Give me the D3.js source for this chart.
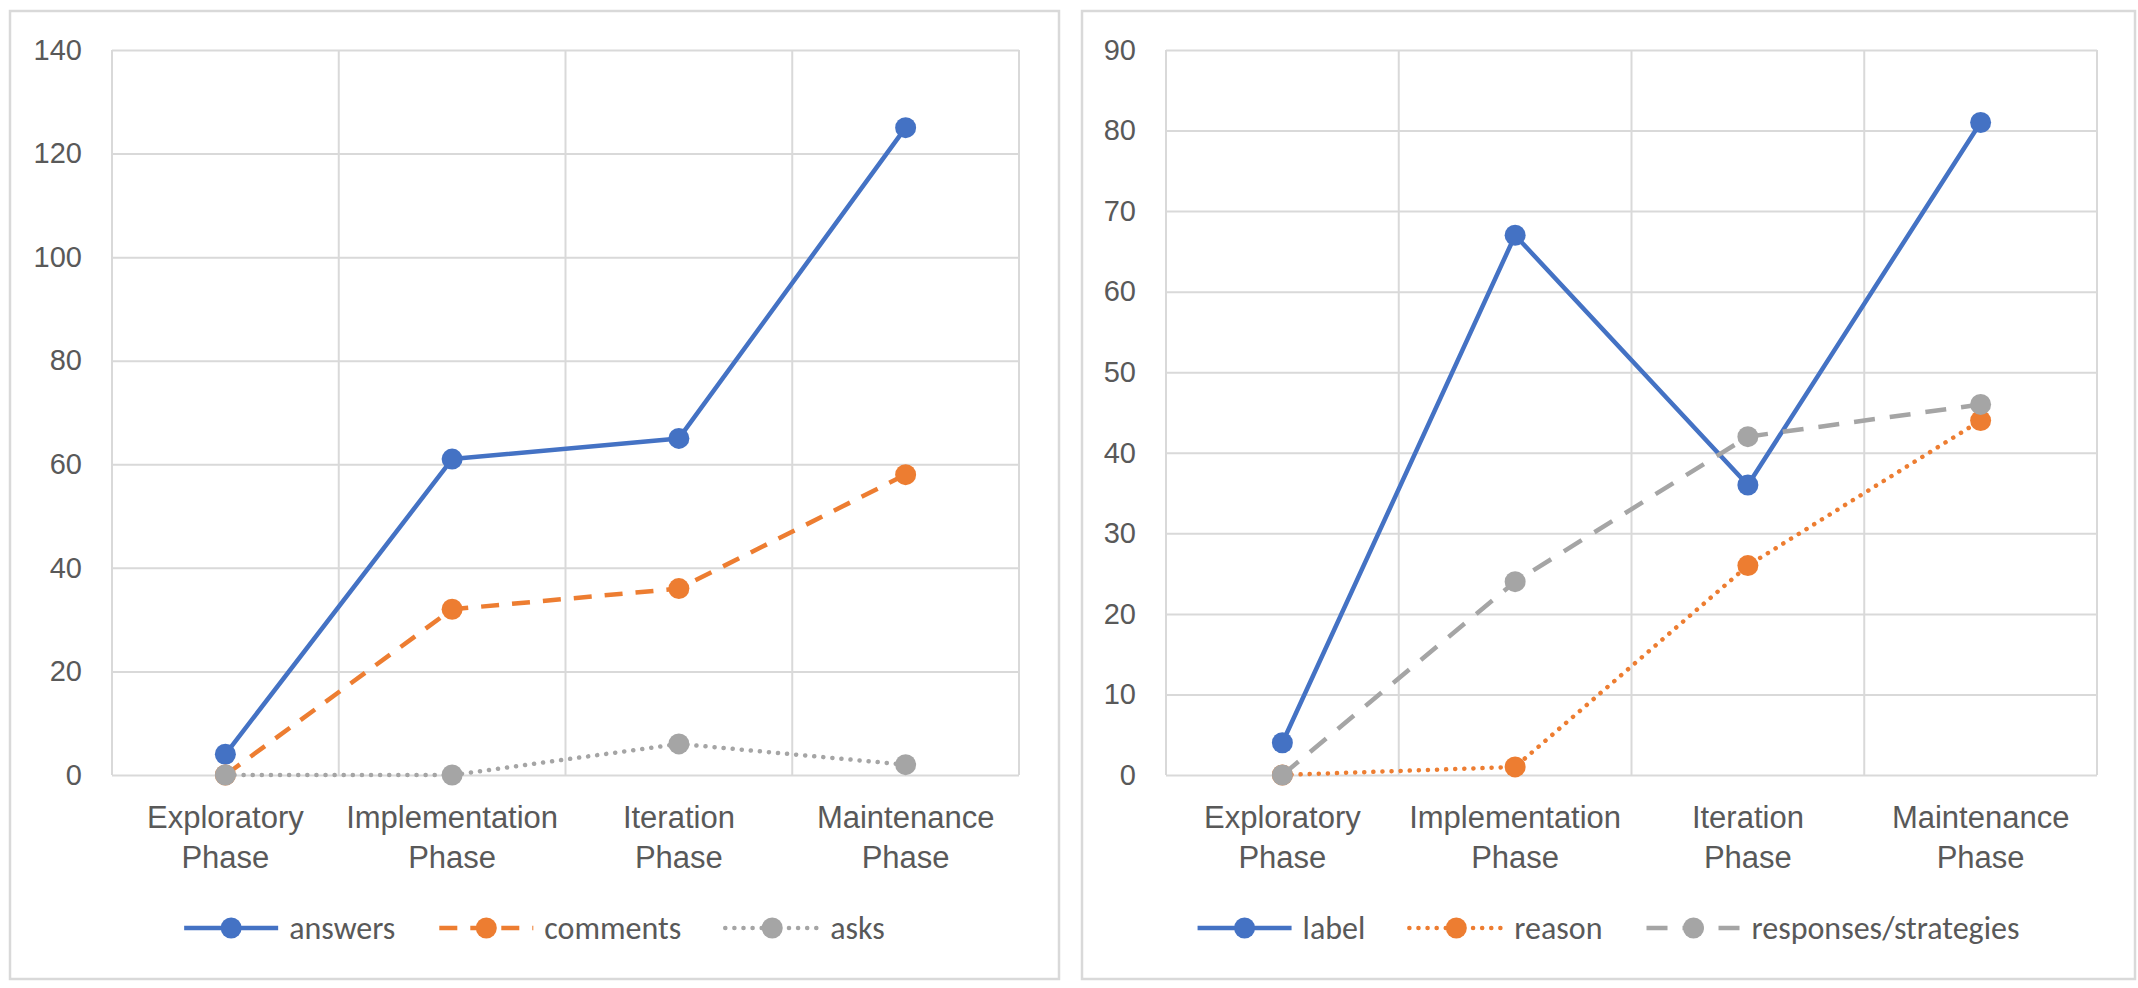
<!DOCTYPE html>
<html>
<head>
<meta charset="utf-8">
<script src="https://cdn.jsdelivr.net/npm/d3@7"></script>
<style>
  body { margin: 0; background: #fff; }
  svg { display: block; font-family: Calibri, Carlito, Lato, sans-serif; }
</style>
</head>
<body>
<svg id="chart" width="2138" height="988"></svg>
<script>
// categories shared by both panels
const phases = ["Exploratory Phase", "Implementation Phase", "Iteration Phase", "Maintenance Phase"];

// left panel series
const answers = [4, 61, 65, 125];
const comments = [0, 32, 36, 58];
const asks = [0, 0, 6, 2];
const leftTicks = [0, 20, 40, 60, 80, 100, 120, 140];

// right panel series
const labelCounts = [4, 67, 36, 81];
const reasonCounts = [0, 1, 26, 44];
const responseCounts = [0, 24, 42, 46];
const rightTicks = [0, 10, 20, 30, 40, 50, 60, 70, 80, 90];

const Colours = { blue: "#4472C4", orange: "#ED7D31", grey: "#A5A5A5", text: "#595959", grid: "#D9D9D9" };
const Dashes = { solid: null, dash: "18,13", longDash: "21,15", dot: "0.1,9" };
const Fonts = { tick: 29, category: 31, legend: 32 };

const svg = d3.select("#chart");

function drawPanel(cfg) {
    const g = svg.append("g");

    // panel frame
    g.append("rect")
        .attr("x", cfg.panel[0]).attr("y", 11)
        .attr("width", cfg.panel[1] - cfg.panel[0]).attr("height", 968)
        .attr("fill", "#fff").attr("stroke", Colours.grid).attr("stroke-width", 2.5);

    const top = 50, bottom = 775;
    const [left, right] = cfg.plot;

    const band = d3.scaleBand().domain(phases).range([left, right]).padding(0);
    const x = d => band(d) + band.bandwidth() / 2;
    const y = d3.scaleLinear().domain([0, d3.max(cfg.ticks)]).range([bottom, top]);

    // horizontal grid + y labels
    g.append("g")
        .attr("transform", `translate(${left},0)`)
        .call(d3.axisLeft(y).tickValues(cfg.ticks).tickSize(-(right - left)).tickPadding(30))
        .call(a => a.select(".domain").remove())
        .call(a => a.selectAll("line").attr("stroke", Colours.grid).attr("stroke-width", 2))
        .call(a => a.selectAll("text").attr("fill", Colours.text).attr("font-size", Fonts.tick)
            .attr("font-family", null));

    // vertical grid at band edges
    g.append("g").selectAll("line")
        .data(phases.map(p => band(p)).concat([right]))
        .join("line")
        .attr("x1", d => d).attr("x2", d => d)
        .attr("y1", top).attr("y2", bottom)
        .attr("stroke", Colours.grid).attr("stroke-width", 2);

    // category labels split over two lines
    const xAxis = g.append("g")
        .attr("transform", `translate(0,${bottom})`)
        .call(d3.axisBottom(band).tickSize(0).tickPadding(0))
        .call(a => a.select(".domain").remove());
    xAxis.selectAll("text")
        .attr("fill", Colours.text).attr("font-size", Fonts.category).attr("font-family", null)
        .attr("y", 0).attr("dy", null)
        .text(null)
        .selectAll("tspan")
        .data(d => d.split(" "))
        .join("tspan")
        .attr("x", 0)
        .attr("y", (d, i) => 53 + i * 40)
        .text(d => d);

    const line = d3.line().x((d, i) => x(phases[i])).y(d => y(d));

    cfg.series.forEach(s => {
        const sg = g.append("g");
        sg.append("path")
            .datum(s.values)
            .attr("d", line)
            .attr("fill", "none")
            .attr("stroke", s.colour)
            .attr("stroke-width", 4.5)
            .attr("stroke-linecap", s.dash === Dashes.dot ? "round" : "butt")
            .attr("stroke-linejoin", "round")
            .attr("stroke-dasharray", s.dash);
        sg.selectAll("circle")
            .data(s.values)
            .join("circle")
            .attr("cx", (d, i) => x(phases[i]))
            .attr("cy", d => y(d))
            .attr("r", 10.5)
            .attr("fill", s.colour);
    });

    // legend, centred in the panel
    const legend = g.append("g");
    const legY = 928, lineLen = 94, gap = 44;
    let cursor = 0;
    cfg.series.forEach(s => {
        const item = legend.append("g");
        item.append("line")
            .attr("x1", 0).attr("x2", lineLen).attr("y1", 0).attr("y2", 0)
            .attr("stroke", s.colour).attr("stroke-width", 4.5)
            .attr("stroke-linecap", s.dash === Dashes.dot ? "round" : "butt")
            .attr("stroke-dasharray", s.dash);
        item.append("circle").attr("cx", lineLen / 2).attr("cy", 0).attr("r", 10.5).attr("fill", s.colour);
        const t = item.append("text")
            .attr("x", lineLen + 11).attr("y", 0).attr("dy", "0.35em")
            .attr("font-size", Fonts.legend).attr("fill", Colours.text)
            .text(s.name);
        const w = lineLen + 11 + t.node().getComputedTextLength();
        item.attr("transform", `translate(${cursor},${legY})`);
        cursor += w + gap;
    });
    const total = cursor - gap;
    const offset = (cfg.panel[0] + cfg.panel[1]) / 2 - total / 2;
    legend.attr("transform", `translate(${offset},0)`);
}

drawPanel({
    panel: [10, 1059],
    plot: [112, 1019],
    ticks: leftTicks,
    series: [
        { name: "answers", values: answers, colour: Colours.blue, dash: Dashes.solid },
        { name: "comments", values: comments, colour: Colours.orange, dash: Dashes.dash },
        { name: "asks", values: asks, colour: Colours.grey, dash: Dashes.dot }
    ]
});

drawPanel({
    panel: [1082, 2135],
    plot: [1166, 2097],
    ticks: rightTicks,
    series: [
        { name: "label", values: labelCounts, colour: Colours.blue, dash: Dashes.solid },
        { name: "reason", values: reasonCounts, colour: Colours.orange, dash: Dashes.dot },
        { name: "responses/strategies", values: responseCounts, colour: Colours.grey, dash: Dashes.longDash }
    ]
});
</script>
</body>
</html>
